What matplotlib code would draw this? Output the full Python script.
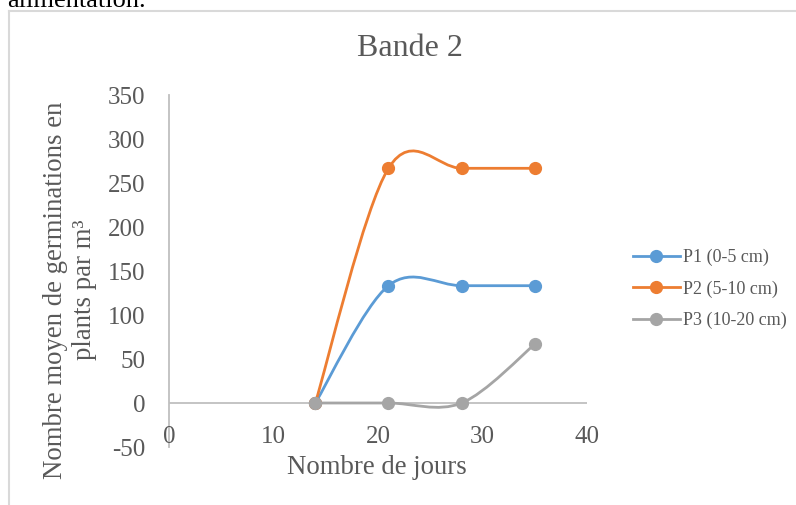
import matplotlib
matplotlib.use('Agg')
import matplotlib.pyplot as plt
from matplotlib.path import Path
from matplotlib.patches import PathPatch
from matplotlib.lines import Line2D
import numpy as np

# germinations per band-2 plot, by sampling day
jours = [14, 21, 28, 35]
p1 = [0, 133.3, 133.3, 133.3]
p2 = [0, 266.7, 266.7, 266.7]
p3 = [0, 0, 0, 66.7]
noms = ['P1 (0-5 cm)', 'P2 (5-10 cm)', 'P3 (10-20 cm)']
couleurs = ['#5B9BD5', '#ED7D31', '#A5A5A5']
xticks = [0, 10, 20, 30, 40]
yticks = [-50, 0, 50, 100, 150, 200, 250, 300, 350]

GRIS = '#595959'
AXE = '#BFBFBF'


def smooth_path(x, y):
    # cubic Bezier through the points, same style as spreadsheet "smoothed line"
    pts = np.column_stack([x, y]).astype(float)
    n = len(pts)
    verts = [pts[0]]
    codes = [Path.MOVETO]
    for i in range(n - 1):
        prev = pts[max(i - 1, 0)]
        nxt = pts[min(i + 2, n - 1)]
        c1 = pts[i] + (pts[i + 1] - prev) / 6.0
        c2 = pts[i + 1] - (nxt - pts[i]) / 6.0
        verts += [c1, c2, pts[i + 1]]
        codes += [Path.CURVE4] * 3
    return Path(verts, codes)


plt.rcParams['font.family'] = ['Liberation Serif', 'DejaVu Serif']
plt.rcParams['axes.unicode_minus'] = False

fig = plt.figure(figsize=(7.96, 5.05), dpi=100)
ax = fig.add_axes([169 / 796, 1 - 447 / 505, 418 / 796, 352 / 505])

for serie, col in zip([p1, p2, p3], couleurs):
    ax.add_patch(PathPatch(smooth_path(jours, serie), fill=False,
                           edgecolor=col, lw=2.0, capstyle='round', zorder=3))
    ax.plot(jours, serie, 'o', color=col, ms=8.5, zorder=4)

ax.set_xlim(0, 40)
ax.set_ylim(-50, 350)
ax.axhline(0, color=AXE, lw=1.3, zorder=1)

for s in ['top', 'right', 'bottom']:
    ax.spines[s].set_visible(False)
ax.spines['left'].set_color(AXE)
ax.spines['left'].set_linewidth(1.3)

ax.set_yticks(yticks)
ax.tick_params(axis='y', length=0, pad=17, labelsize=18, labelcolor=GRIS)
ax.set_xticks([])
for t in xticks:
    ax.text(t, -38.5, str(t), ha='center', va='center', fontsize=18, color=GRIS)

fig.text(410 / 796, 1 - 48 / 505, 'Bande 2', ha='center', va='center',
         fontsize=23, color=GRIS)
fig.text(377 / 796, 1 - 468 / 505, 'Nombre de jours', ha='center', va='center',
         fontsize=19.3, color=GRIS)
fig.text(70 / 796, 1 - 290 / 505, 'Nombre moyen de germinations en\nplants par m³',
         ha='center', va='center', rotation=90, multialignment='center',
         linespacing=1.25, fontsize=19.3, color=GRIS)

handles = [Line2D([], [], color=c, lw=2.0, marker='o', ms=8.5) for c in couleurs]
fig.legend(handles, noms, loc='center left', bbox_to_anchor=(633 / 796, 1 - 289 / 505),
           frameon=False, fontsize=13, labelcolor=GRIS, handlelength=2.6,
           handletextpad=0.15, labelspacing=0.78, borderpad=0, borderaxespad=0)

# chart frame and the end of the preceding paragraph
fig.add_artist(Line2D([9 / 796, 1], [1 - 11 / 505] * 2, color='#D9D9D9', lw=1.5))
fig.add_artist(Line2D([9 / 796] * 2, [0, 1 - 11 / 505], color='#D9D9D9', lw=1.5))
fig.text(146 / 796, 1 - 7 / 505, 'alimentation.', ha='right', va='baseline',
         fontsize=19, color='black')

plt.savefig('out.png', dpi=100)
plt.close()
